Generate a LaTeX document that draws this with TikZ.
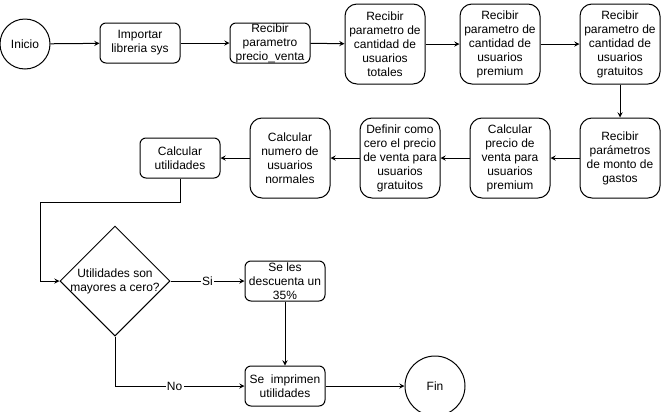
\documentclass[tikz,border=0pt]{standalone}
\usepackage{fontspec}
\setmainfont{Liberation Sans}
\usepackage{tikz}
\usetikzlibrary{shapes.geometric}

\begin{document}
\begin{tikzpicture}[x=0.75pt, y=-0.75pt, line width=0.75pt, >=stealth,
	every node/.style={font=\fontsize{9}{10.5}\selectfont, align=center},
	proceso/.style={draw, rounded corners=4.5pt, minimum width=60pt, minimum height=30pt, inner sep=0pt},
	procesoalto/.style={draw, rounded corners=9pt, minimum width=60pt, minimum height=60pt, inner sep=0pt},
	terminal/.style={draw, circle, inner sep=0pt},
	decision/.style={draw, diamond, minimum width=82.5pt, minimum height=82.5pt, inner sep=0pt},
	etiqueta/.style={fill=white, inner sep=1pt}]
	\useasboundingbox (0,0) rectangle (661,411);
	\node[terminal, minimum size=37.5pt] (inicio) at (25,44) {Inicio};
	\node[proceso] (importar) at (140,43) {Importar\\libreria sys};
	\node[proceso] (precio) at (270,43) {Recibir\\parametro\\precio\_venta};
	\node[procesoalto] (totales) at (385,44) {Recibir\\parametro de\\cantidad de\\usuarios\\totales};
	\node[procesoalto] (premium) at (500,44) {Recibir\\parametro de\\cantidad de\\usuarios\\premium};
	\node[procesoalto] (gratuitos) at (620,44) {Recibir\\parametro de\\cantidad de\\usuarios\\gratuitos};
	\node[procesoalto] (gastos) at (620,158) {Recibir\\parámetros\\de monto de\\gastos};
	\node[procesoalto] (calcpremium) at (510,158) {Calcular\\precio de\\venta para\\usuarios\\premium};
	\node[procesoalto] (cero) at (400,158) {Definir como\\cero el precio\\de venta para\\usuarios\\gratuitos};
	\node[procesoalto] (normales) at (290,158) {Calcular\\numero de\\usuarios\\normales};
	\node[proceso] (utilidades) at (180,158) {Calcular\\utilidades};
	\node[decision, label={center:{Utilidades son\\mayores a cero?}}] (dec) at (115,281) {};
	\node[proceso] (descuenta) at (285,281) {Se les\\descuenta un\\35\%};
	\node[proceso] (imprimen) at (285,386) {Se\ \ imprimen\\utilidades};
	\node[terminal, minimum size=45pt] (fin) at (435,386) {Fin};
	\coordinate (codo) at (40,202);
	\draw[->] (inicio) -- (importar);
	\draw[->] (importar) -- (precio);
	\draw[->] (precio) -- (totales);
	\draw[->] (totales) -- (premium);
	\draw[->] (premium) -- (gratuitos);
	\draw[->] (gratuitos) -- (gastos);
	\draw[->] (gastos) -- (calcpremium);
	\draw[->] (calcpremium) -- (cero);
	\draw[->] (cero) -- (normales);
	\draw[->] (normales) -- (utilidades);
	\draw[->] (utilidades.south) |- (codo) |- (dec.west);
	\draw[->] (dec.east) -- node[etiqueta] {Si} (descuenta.west);
	\draw[->] (descuenta) -- (imprimen);
	\draw[->] (dec.south) |- node[etiqueta, pos=0.73] {No} (imprimen.west);
	\draw[->] (imprimen) -- (fin);
\end{tikzpicture}
\end{document}
